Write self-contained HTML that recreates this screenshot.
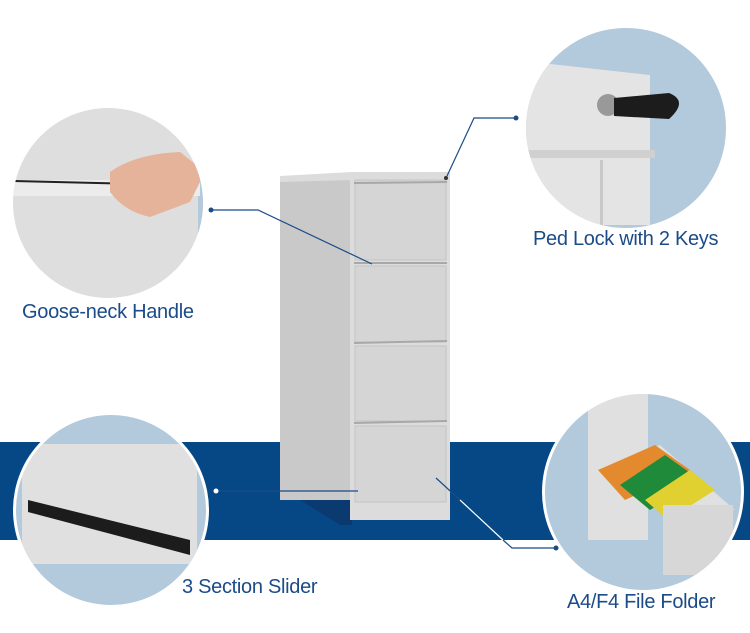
<!DOCTYPE html>
<html><head><meta charset="utf-8"><style>
html,body{margin:0;padding:0;background:#fff;}
body{width:750px;height:633px;overflow:hidden;position:relative;font-family:"Liberation Sans",sans-serif;}
.lbl{position:absolute;color:#1b4b88;font-size:20px;white-space:nowrap;letter-spacing:-0.3px;}
</style></head><body>
<svg width="750" height="633" style="position:absolute;left:0;top:0">
<defs>
<clipPath id="c1"><circle cx="108" cy="203" r="95"/></clipPath>
<clipPath id="c2"><circle cx="626" cy="128" r="100"/></clipPath>
<clipPath id="c3"><circle cx="111" cy="510" r="95"/></clipPath>
<clipPath id="c4"><circle cx="643" cy="492" r="98"/></clipPath>
</defs>
<rect x="0" y="442" width="750" height="98" fill="#064886"/>
<!-- cabinet -->
<polygon points="300,500 352,500 352,525 340,525" fill="#0a3a70"/>
<rect x="280" y="176" width="72" height="324" fill="#c9c9c9"/>
<polygon points="280,176 352,172 352,180 280,182" fill="#dcdcdc"/>
<rect x="350" y="172" width="100" height="348" fill="#dcdcdc"/>
<rect x="355" y="180" width="91" height="80" fill="#d5d5d5" stroke="#c4c4c4"/>
<rect x="355" y="266" width="91" height="76" fill="#d5d5d5" stroke="#c4c4c4"/>
<rect x="355" y="346" width="91" height="75" fill="#d5d5d5" stroke="#c4c4c4"/>
<rect x="355" y="426" width="91" height="76" fill="#d5d5d5" stroke="#c4c4c4"/>
<line x1="354" y1="263" x2="447" y2="263" stroke="#a8a8a8" stroke-width="2"/>
<line x1="354" y1="343" x2="447" y2="341" stroke="#a8a8a8" stroke-width="2"/>
<line x1="354" y1="423" x2="447" y2="421" stroke="#a8a8a8" stroke-width="2"/>
<line x1="354" y1="183" x2="447" y2="182" stroke="#a8a8a8" stroke-width="2"/>
<circle cx="446" cy="178" r="2" fill="#333"/>
<!-- circles -->
<circle cx="108" cy="203" r="97" fill="#fff"/>
<g clip-path="url(#c1)"><rect x="0" y="100" width="220" height="210" fill="#dedede"/>
<rect x="198" y="100" width="20" height="210" fill="#b3c9dc"/>
<rect x="10" y="180" width="190" height="16" fill="#ececec"/>
<line x1="14" y1="181" x2="140" y2="184" stroke="#222" stroke-width="2"/>
<path d="M110,172 q25,-18 70,-20 l25,20 l-15,30 l-40,15 q-25,-5 -40,-25z" fill="#e4b39a"/></g>
<circle cx="626" cy="128" r="103" fill="#fff"/>
<g clip-path="url(#c2)"><rect x="500" y="20" width="260" height="220" fill="#b3c9dc"/>
<polygon points="515,60 650,75 650,225 515,225" fill="#e4e4e4"/>
<rect x="515" y="150" width="140" height="8" fill="#d0d0d0"/>
<rect x="600" y="160" width="3" height="70" fill="#c8c8c8"/>
<circle cx="608" cy="105" r="11" fill="#999"/>
<path d="M614,98 l55,-5 q20,8 0,26 l-55,-3z" fill="#1c1c1c"/></g>
<circle cx="111" cy="510" r="98" fill="#fff"/>
<g clip-path="url(#c3)"><rect x="0" y="410" width="220" height="210" fill="#b3c9dc"/>
<rect x="22" y="444" width="175" height="120" fill="#e0e0e0"/>
<polygon points="28,500 190,540 190,555 28,512" fill="#1c1c1c"/></g>
<circle cx="643" cy="492" r="101" fill="#fff"/>
<g clip-path="url(#c4)"><rect x="530" y="385" width="230" height="220" fill="#b3c9dc"/>
<rect x="588" y="390" width="60" height="150" fill="#e0e0e0"/>
<polygon points="598,470 660,445 735,510 598,505" fill="#e0e0e0"/>
<polygon points="598,470 655,445 690,470 625,500" fill="#e48a2e"/>
<polygon points="620,485 665,455 700,480 650,510" fill="#1e8a3a"/>
<polygon points="645,500 690,470 715,490 668,520" fill="#e0d030"/>
<rect x="663" y="505" width="70" height="70" fill="#d7d7d7"/></g>
<!-- connectors -->
<g stroke="#1b4b88" stroke-width="1.2" fill="none">
<polyline points="211,210 258,210 372,264"/>
<polyline points="516,118 474,118 447,176"/>
<polyline points="216,491 358,491"/>
<polyline points="436,478 460,500"/>
<polyline points="503,540 512,548 556,548"/>
</g>
<line x1="460" y1="500" x2="503" y2="540" stroke="#fff" stroke-width="1.2"/>
<g fill="#1b4b88"><circle cx="211" cy="210" r="2.5"/><circle cx="516" cy="118" r="2.5"/><circle cx="556" cy="548" r="2.5"/></g>
<circle cx="216" cy="491" r="2.5" fill="#fff"/>
</svg>
<div class="lbl" style="left:22px;top:301px">Goose-neck Handle</div>
<div class="lbl" style="left:533px;top:228px">Ped Lock with 2 Keys</div>
<div class="lbl" style="left:182px;top:576px">3 Section Slider</div>
<div class="lbl" style="left:567px;top:591px">A4/F4 File Folder</div>
</body></html>
